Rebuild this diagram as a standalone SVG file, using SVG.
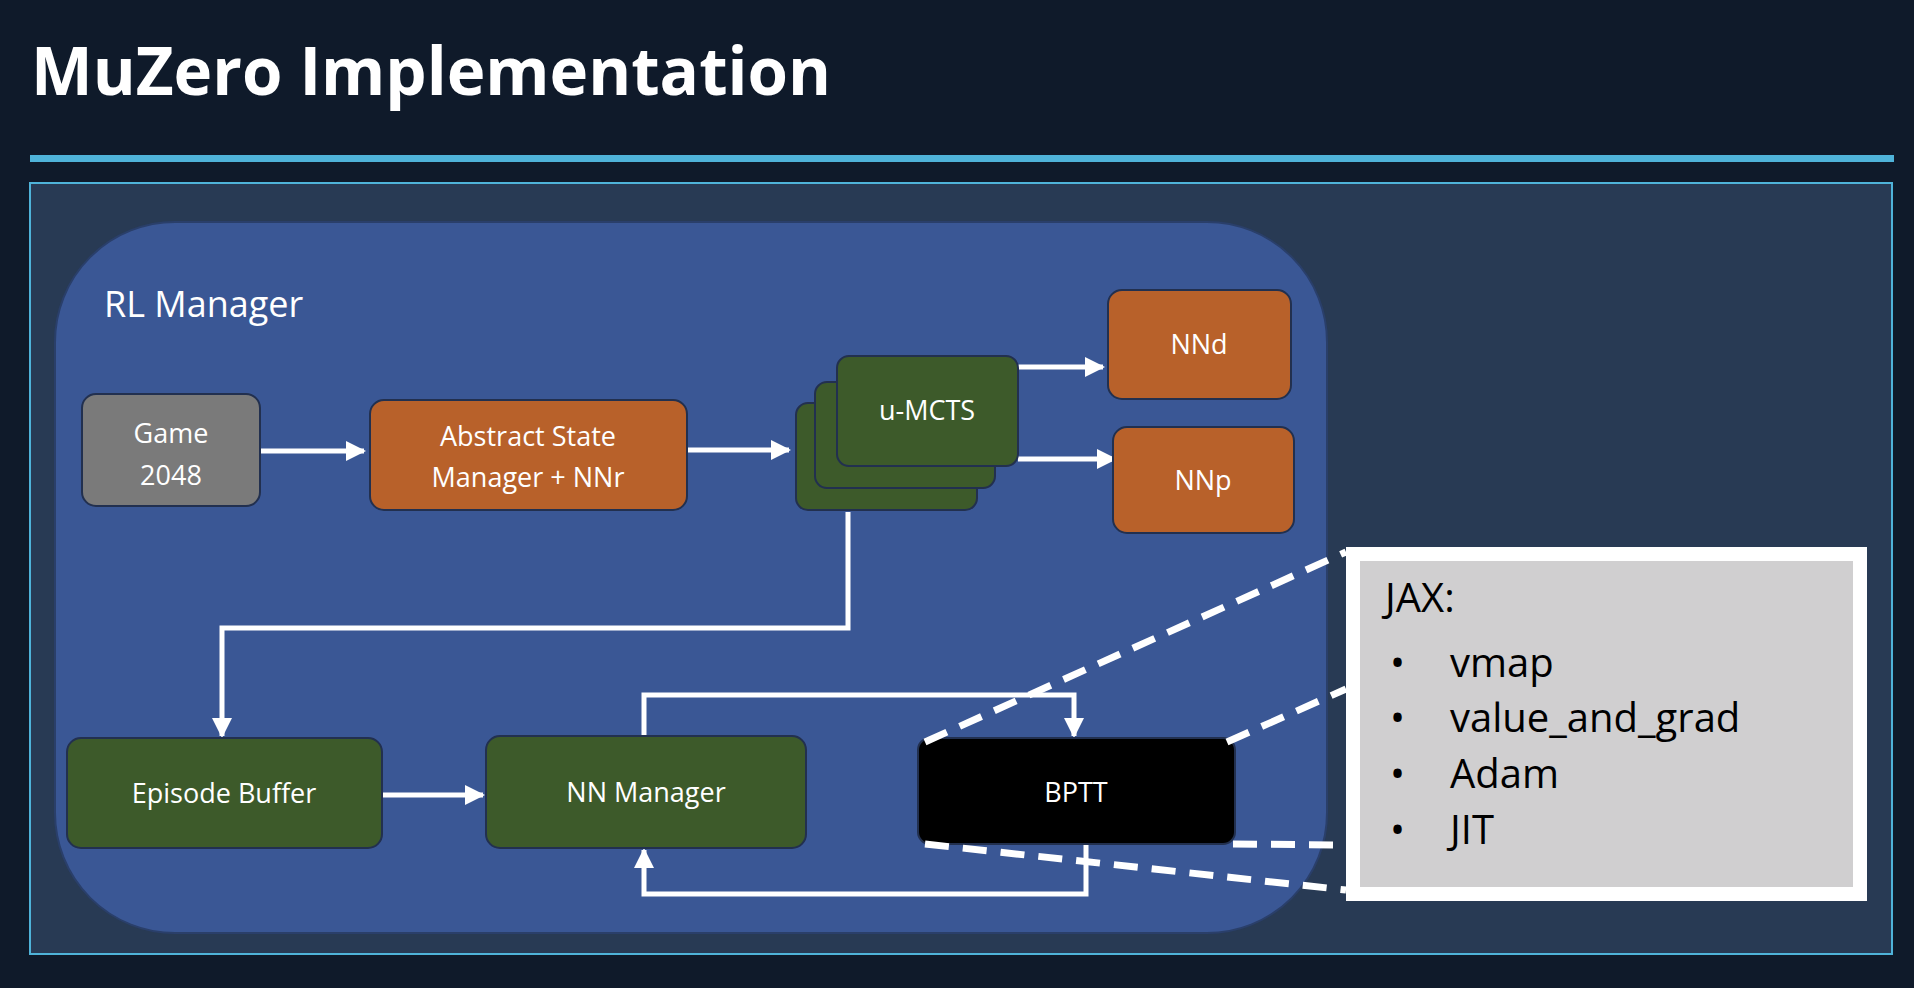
<svg xmlns="http://www.w3.org/2000/svg" width="1914" height="988" viewBox="0 0 1914 988">
<defs>
<style>
.t{font-family:"Open Sans","Liberation Sans",sans-serif;fill:#fff;font-size:27px;text-anchor:middle}
.c{fill:none;stroke:#fff;stroke-width:5}
.d{fill:none;stroke:#fff;stroke-width:7;stroke-dasharray:24 14}
.n{stroke:#22304f;stroke-width:2}
.j{font-family:"Open Sans","Liberation Sans",sans-serif;fill:#000;font-size:40px}
</style>
<marker id="a" viewBox="0 0 10 10" refX="9" refY="5" markerWidth="4" markerHeight="4" orient="auto" markerUnits="strokeWidth"><path d="M0,0L10,5L0,10z" fill="#fff"/></marker>
</defs>
<rect width="1914" height="988" fill="#0f1a2a"/>
<text x="31" y="95" font-family="'Open Sans','Liberation Sans',sans-serif" font-weight="bold" font-size="66" fill="#fff" textLength="800" lengthAdjust="spacingAndGlyphs">MuZero Implementation</text>
<rect x="30" y="155" width="1864" height="7" fill="#4fb3d9"/>
<rect x="30" y="183" width="1862" height="771" fill="#283a54" stroke="#4fb3d9" stroke-width="2"/>
<g id="rl-manager"><rect x="55" y="222" width="1272" height="711" rx="120" fill="#3a5795" stroke="#2a3f6a" stroke-width="2"/>
<text x="104" y="317" font-family="'Open Sans','Liberation Sans',sans-serif" font-size="36" fill="#fff">RL Manager</text></g>
<g id="connectors">
<path class="c" d="M260,451H364" marker-end="url(#a)"/>
<path class="c" d="M687,450H789" marker-end="url(#a)"/>
<path class="c" d="M1018,367H1103" marker-end="url(#a)"/>
<path class="c" d="M1018,459H1115" marker-end="url(#a)"/>
<path class="c" d="M848,512V628H222V736" marker-end="url(#a)"/>
<path class="c" d="M382,795H483" marker-end="url(#a)"/>
<path class="c" d="M644,736V695H1074V736" marker-end="url(#a)"/>
<path class="c" d="M1086,844V894H644V850" marker-end="url(#a)"/>
</g>
<g id="game"><rect class="n" x="82" y="394" width="178" height="112" rx="14" fill="#7a7a7a"/><text class="t" x="171" y="443">Game</text><text class="t" x="171" y="485">2048</text></g>
<g id="asm"><rect class="n" x="370" y="400" width="317" height="110" rx="14" fill="#b8612a"/><text class="t" x="528" y="446">Abstract State</text><text class="t" x="528" y="487">Manager + NNr</text></g>
<g id="umcts"><rect class="n" x="796" y="403" width="181" height="107" rx="12" fill="#3d5a2a"/><rect class="n" x="815" y="382" width="180" height="106" rx="12" fill="#3d5a2a"/><rect class="n" x="837" y="356" width="181" height="110" rx="12" fill="#3d5a2a"/><text class="t" x="927" y="420">u-MCTS</text></g>
<g id="nnd"><rect class="n" x="1108" y="290" width="183" height="109" rx="14" fill="#b8612a"/><text class="t" x="1199" y="354">NNd</text></g>
<g id="nnp"><rect class="n" x="1113" y="427" width="181" height="106" rx="14" fill="#b8612a"/><text class="t" x="1203" y="490">NNp</text></g>
<g id="episode-buffer"><rect class="n" x="67" y="738" width="315" height="110" rx="14" fill="#3d5a2a"/><text class="t" x="224" y="803">Episode Buffer</text></g>
<g id="nn-manager"><rect class="n" x="486" y="736" width="320" height="112" rx="14" fill="#3d5a2a"/><text class="t" x="646" y="802">NN Manager</text></g>
<g id="bptt"><rect class="n" x="918" y="738" width="317" height="106" rx="12" fill="#000"/><text class="t" x="1076" y="802">BPTT</text></g>
<g id="zoom-lines">
<path class="d" d="M925,742L1346,552"/>
<path class="d" d="M1227,742L1346,689"/>
<path class="d" d="M925,844L1346,890"/>
<path class="d" d="M1233,844L1346,845"/>
</g>
<g id="jax"><rect x="1353" y="554" width="507" height="340" fill="#d0cfd0" stroke="#fff" stroke-width="14"/>
<text class="j" x="1385" y="612">JAX:</text>
<text class="j" x="1390" y="677">•</text><text class="j" x="1450" y="677">vmap</text>
<text class="j" x="1390" y="732">•</text><text class="j" x="1450" y="732">value_and_grad</text>
<text class="j" x="1390" y="788">•</text><text class="j" x="1450" y="788">Adam</text>
<text class="j" x="1390" y="844">•</text><text class="j" x="1450" y="844">JIT</text>
</g>
</svg>
